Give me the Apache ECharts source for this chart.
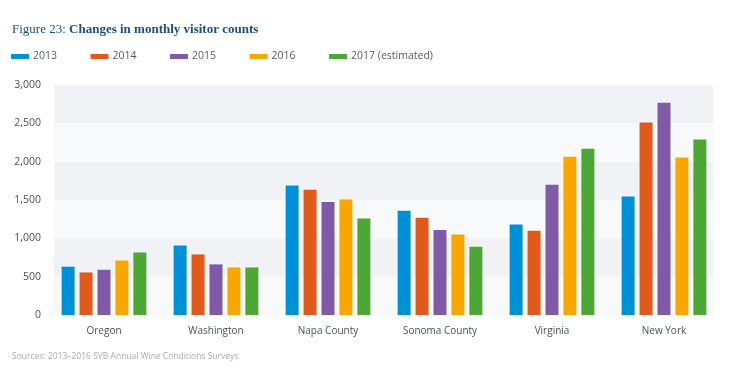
<!DOCTYPE html>
<html><head><meta charset="utf-8">
<script src="https://cdn.jsdelivr.net/npm/echarts@6/dist/echarts.min.js"></script>
<style>html,body{margin:0;padding:0;background:#fff}#c{width:740px;height:385px}</style>
</head><body><div id="c"></div>
<script>
const categories = ['Oregon','Washington','Napa County','Sonoma County','Virginia','New York'];
const seriesNames = ['2013','2014','2015','2016','2017 (estimated)'];
const v2013 = [630, 905, 1690, 1360, 1180, 1545];
const v2014 = [555, 790, 1635, 1270, 1100, 2510];
const v2015 = [590, 660, 1475, 1110, 1700, 2770];
const v2016 = [710, 620, 1505, 1050, 2065, 2055];
const v2017 = [815, 620, 1260, 890, 2170, 2290];
const yTicks = [0, 500, 1000, 1500, 2000, 2500, 3000];
const colors = ['#0091d5','#e05a1b','#7f5ba5','#f6a700','#4ea636'];

const allValues = [v2013, v2014, v2015, v2016, v2017];
const yMin = yTicks[0], yMax = yTicks[yTicks.length-1];
const chart = echarts.init(document.getElementById('c'));
chart.setOption({
  animation: false,
  color: colors,
  title: [{
    text: '{a|Figure 23: }{b|Changes in monthly visitor counts}',
    left: 12, top: 23, padding: 0,
    textStyle: { rich: {
      a: { fontFamily: 'Liberation Serif', fontSize: 13, fontWeight: 'normal', color: '#1d4f76' },
      b: { fontFamily: 'Liberation Serif', fontSize: 13, fontWeight: 'bold', color: '#1d4f76' }
    } }
  }, {
    text: 'Sources: 2013\u20132016 SVB Annual Wine Conditions Surveys',
    left: 12, top: 352, padding: 0,
    textStyle: { fontFamily: 'Open Sans', fontSize: 8.5, fontWeight: 'normal', color: '#a4abbd' }
  }],
  legend: {
    left: 11, top: 51, padding: 0,
    itemWidth: 18, itemHeight: 5, itemGap: 33.5,
    icon: 'rect',
    textStyle: { fontFamily: 'Open Sans', fontSize: 10.5, color: '#555b66', padding: [0,0,0,-1] },
    data: seriesNames
  },
  grid: [
    { left: 48, right: 20, top: 85, bottom: 70 },
    { left: 54, right: 27, top: 85, bottom: 70 }
  ],
  xAxis: [{
    type: 'category', data: categories, gridIndex: 0,
    axisLine: { show: false }, axisTick: { show: false },
    axisLabel: { fontFamily: 'Open Sans', fontSize: 10, color: '#4a505a', margin: 11 }
  }, {
    type: 'value', gridIndex: 1, show: false
  }],
  yAxis: [{
    type: 'value', gridIndex: 0, min: yMin, max: yMax, interval: 500, show: false,
    splitLine: { show: false }
  }, {
    type: 'value', gridIndex: 1, min: yMin, max: yMax, interval: 500, z: 0,
    axisLine: { show: false }, axisTick: { show: false },
    splitLine: { show: false },
    splitArea: { show: true, areaStyle: { color: ['#f8f9fb', '#f1f2f6'] } },
    axisLabel: { fontFamily: 'Open Sans', fontSize: 10.5, color: '#4a505a', margin: 13,
      formatter: v => v.toLocaleString('en-US') }
  }],
  series: seriesNames.map((n, i) => ({
    name: n, type: 'bar', data: allValues[i], barWidth: 13, barGap: '38%',
    xAxisIndex: 0, yAxisIndex: 0
  }))
});
</script></body></html>
